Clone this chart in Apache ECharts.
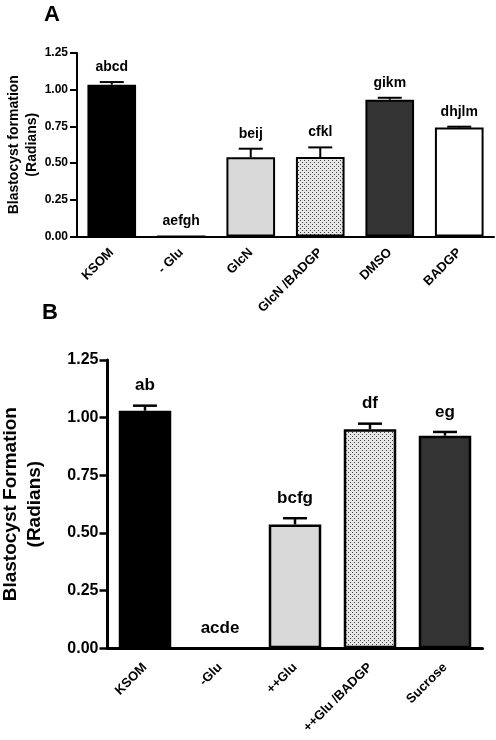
<!DOCTYPE html>
<html><head><meta charset="utf-8">
<script src="https://cdn.jsdelivr.net/npm/echarts@6/dist/echarts.min.js"></script>
<style>html,body{margin:0;padding:0;background:#fff}#c{width:496px;height:740px}</style>
</head><body><div id="c"></div>
<script>
// ---- Data ----
const categoriesA = ['KSOM', '- Glu', 'GlcN', 'GlcN /BADGP', 'DMSO', 'BADGP'];
const valuesA = [1.034, 0, 0.539, 0.541, 0.932, 0.743];
const errorsA = [0.018, 0, 0.059, 0.066, 0.013, 0.005];
const lettersA = ['abcd', 'aefgh', 'beij', 'cfkl', 'gikm', 'dhjlm'];

const categoriesB = ['KSOM', '-Glu', '++Glu', '++Glu /BADGP', 'Sucrose'];
const valuesB = [1.030, 0, 0.537, 0.950, 0.922];
const errorsB = [0.022, 0, 0.027, 0.024, 0.016];
const lettersB = ['ab', 'acde', 'bcfg', 'df', 'eg'];

const yTicks = [0, 0.25, 0.5, 0.75, 1.0, 1.25];

// ---- Styles ----
function dotPattern() {
  const c = document.createElement('canvas');
  c.width = 4; c.height = 4;
  const g = c.getContext('2d');
  g.fillStyle = '#e6e6e6'; g.fillRect(0, 0, 4, 4);
  g.fillStyle = '#444'; g.fillRect(0, 0, 1, 1); g.fillRect(2, 2, 1, 1);
  return { image: c, repeat: 'repeat' };
}
const dots = dotPattern();
const fillsA = ['#000000', '#ffffff', '#d9d9d9', dots, '#333333', '#ffffff'];
const fillsB = ['#000000', '#ffffff', '#d9d9d9', dots, '#333333'];
const FONT = 'Arial, "Liberation Sans", Helvetica, sans-serif';

function barSeries(idx, vals, fills, bw) {
  return {
    type: 'bar', xAxisIndex: idx, yAxisIndex: idx,
    barCategoryGap: '30%',
    data: vals.map((v, i) => ({ value: v, itemStyle: { color: fills[i] } })),
    itemStyle: { borderColor: '#000', borderWidth: bw },
    silent: true, z: 2
  };
}
function errSeries(idx, vals, errs, letters, fontSize, offset, lw) {
  return {
    type: 'custom', xAxisIndex: idx, yAxisIndex: idx, z: 3,
    data: vals.map((v, i) => [i, v, v + errs[i]]),
    renderItem: function (params, api) {
      const i = api.value(0);
      const base = api.coord([i, api.value(1)]);
      const top = api.coord([i, api.value(2)]);
      const children = [];
      if (api.value(2) > api.value(1)) {
        children.push({ type: 'line', shape: { x1: top[0], y1: base[1], x2: top[0], y2: top[1] }, style: { stroke: '#000', lineWidth: lw } });
        children.push({ type: 'line', shape: { x1: top[0] - 12, y1: top[1], x2: top[0] + 12, y2: top[1] }, style: { stroke: '#000', lineWidth: lw } });
      }
      children.push({ type: 'text', x: top[0], y: top[1] - offset, style: { text: letters[params.dataIndex], font: 'bold ' + fontSize + 'px ' + FONT, fill: '#000', align: 'center', verticalAlign: 'middle' } });
      return { type: 'group', children: children };
    }
  };
}

const chart = echarts.init(document.getElementById('c'), null, { renderer: 'canvas' });
chart.setOption({
  animation: false,
  backgroundColor: '#fff',
  graphic: [
    { type: 'text', left: 44, top: 4, style: { text: 'A', font: 'bold 22px ' + FONT, fill: '#000' } },
    { type: 'text', left: 42, top: 302, style: { text: 'B', font: 'bold 22px ' + FONT, fill: '#000' } }
  ],
  grid: [
    { left: 77, right: 2, top: 53, bottom: 503.5, containLabel: false, outerBoundsMode: 'none' },
    { left: 107.5, right: 13.5, top: 360, bottom: 91.7, containLabel: false, outerBoundsMode: 'none' }
  ],
  xAxis: [
    { gridIndex: 0, type: 'category', data: categoriesA,
      axisLine: { lineStyle: { color: '#000', width: 2 } },
      axisTick: { alignWithLabel: true, length: 7, lineStyle: { color: '#000', width: 2 } },
      axisLabel: { rotate: 45, interval: 0, margin: 14, color: '#000', fontWeight: 'bold', fontSize: 13, fontFamily: FONT } },
    { gridIndex: 1, type: 'category', data: categoriesB,
      axisLine: { lineStyle: { color: '#000', width: 3 } },
      axisTick: { alignWithLabel: true, length: 8, lineStyle: { color: '#000', width: 2.5 } },
      axisLabel: { rotate: 45, interval: 0, margin: 17, color: '#000', fontWeight: 'bold', fontSize: 13, fontFamily: FONT } }
  ],
  yAxis: [
    { gridIndex: 0, type: 'value', min: 0, max: 1.25, interval: 0.25,
      name: 'Blastocyst formation\n(Radians)', nameLocation: 'middle', nameGap: 36, nameMoveOverlap: false,
      nameTextStyle: { color: '#000', fontWeight: 'bold', fontSize: 14, lineHeight: 18, fontFamily: FONT },
      axisLine: { show: true, lineStyle: { color: '#000', width: 2 } },
      axisTick: { show: true, length: 7, lineStyle: { color: '#000', width: 2 } },
      splitLine: { show: false },
      axisLabel: { margin: 9, color: '#000', fontWeight: 'bold', fontSize: 12, fontFamily: FONT, formatter: v => v.toFixed(2) } },
    { gridIndex: 1, type: 'value', min: 0, max: 1.25, interval: 0.25,
      name: 'Blastocyst Formation\n(Radians)', nameLocation: 'middle', nameGap: 61, nameMoveOverlap: false,
      nameTextStyle: { color: '#000', fontWeight: 'bold', fontSize: 19, lineHeight: 24, fontFamily: FONT },
      axisLine: { show: true, lineStyle: { color: '#000', width: 3 } },
      axisTick: { show: true, length: 8, lineStyle: { color: '#000', width: 2.5 } },
      splitLine: { show: false },
      axisLabel: { margin: 9, color: '#000', fontWeight: 'bold', fontSize: 16, fontFamily: FONT, formatter: v => v.toFixed(2) } }
  ],
  series: [
    barSeries(0, valuesA, fillsA, 2),
    errSeries(0, valuesA, errorsA, lettersA, 14, 15, 2),
    barSeries(1, valuesB, fillsB, 2.5),
    errSeries(1, valuesB, errorsB, lettersB, 17, 20, 2.5)
  ]
});
</script></body></html>
